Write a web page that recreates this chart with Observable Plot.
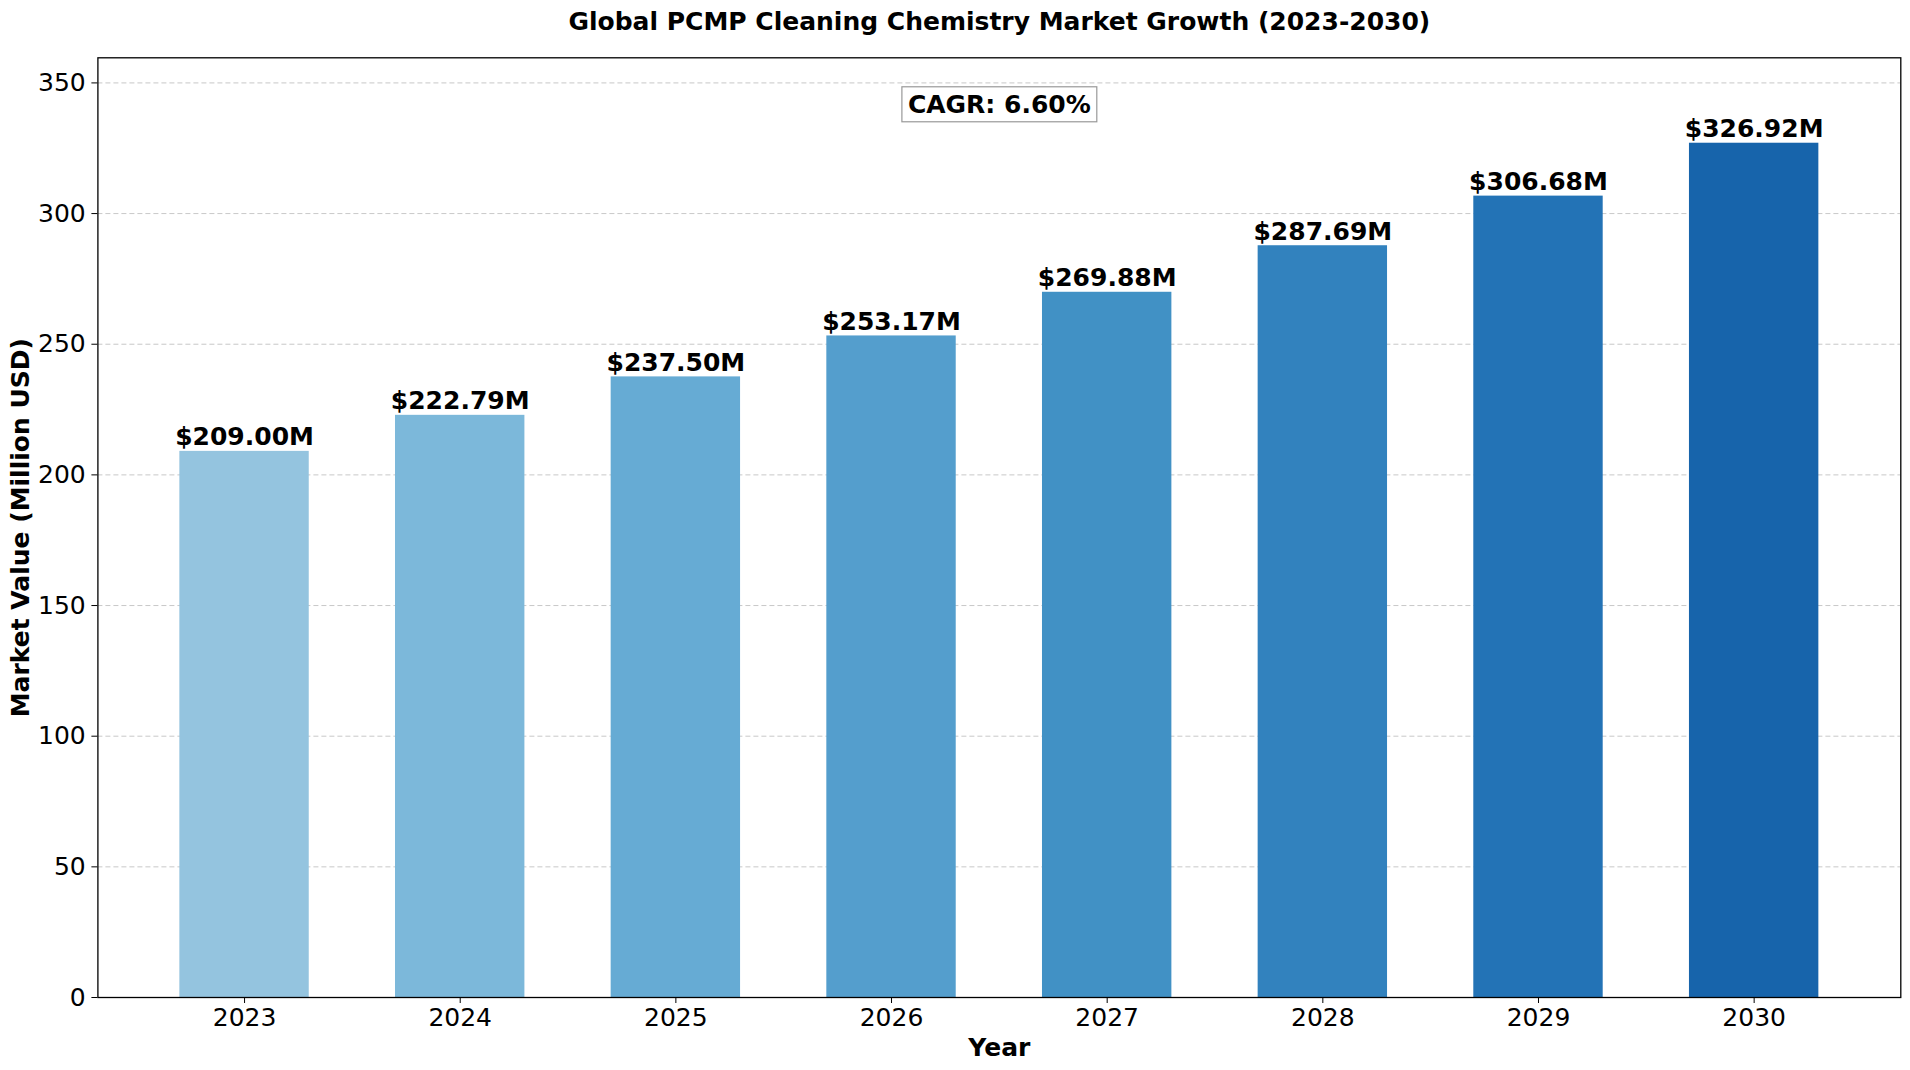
<!DOCTYPE html>
<html>
<head>
<meta charset="utf-8">
<script src="https://cdn.jsdelivr.net/npm/d3@7"></script>
<script src="https://cdn.jsdelivr.net/npm/@observablehq/plot@0.6"></script>
<style>
html, body { margin: 0; padding: 0; background: #fff; overflow: hidden; }
svg g[aria-label$="tick label"] text { font-size: 25px; }
</style>
</head>
<body>
<div id="chart"></div>
<script>
const years = ["2023", "2024", "2025", "2026", "2027", "2028", "2029", "2030"];
const values = [209.00, 222.79, 237.50, 253.17, 269.88, 287.69, 306.68, 326.92];
const yTicks = [0, 50, 100, 150, 200, 250, 300, 350];
const titleText = "Global PCMP Cleaning Chemistry Market Growth (2023-2030)";
const xLabel = "Year";
const yLabel = "Market Value (Million USD)";
const cagrText = "CAGR: 6.60%";

const barColors = ["#94c4df", "#7cb8da", "#66abd4", "#549ecd", "#4191c5", "#3282be", "#2373b6", "#1764ab"];

const data = years.map((year, i) => ({ year, value: values[i], label: `$${values[i].toFixed(2)}M` }));
const yMax = d3.max(values) * 1.1;

const W = 1910, H = 1070;
const mL = 97.4, mR = 9.7, mT = 57.3, mB = 73;
const frameH = H - mT - mB;
const FS = 25;

const chart = Plot.plot({
  width: W,
  height: H,
  marginLeft: mL,
  marginRight: mR,
  marginTop: mT,
  marginBottom: mB,
  style: { fontFamily: "DejaVu Sans", fontSize: FS + "px", color: "black", background: "white", overflow: "visible" },
  x: { type: "band", domain: years, paddingInner: 0.4, paddingOuter: 0.38, align: 0.5, round: false, tickSize: 6, tickPadding: 4.3, fontSize: FS, label: null },
  y: { domain: [0, yMax], ticks: yTicks, tickSize: 6, tickPadding: 6.2, fontSize: FS, label: null },
  color: { type: "ordinal", domain: years, range: barColors },
  marks: [
    Plot.ruleY(yTicks, { stroke: "#b0b0b0", strokeOpacity: 0.7, strokeDasharray: "5,3", strokeWidth: 1 }),
    Plot.barY(data, { x: "year", y: "value", fill: "year" }),
    Plot.text(data, { x: "year", y: "value", text: "label", dy: -6, lineAnchor: "bottom", fontWeight: "bold", fontSize: FS, fill: "black" }),
    Plot.frame({ stroke: "black", strokeWidth: 1.3 }),
    Plot.text([titleText], { text: d => d, frameAnchor: "top", dy: 29 - mT, lineAnchor: "bottom", fontWeight: "bold", fontSize: FS, fill: "black" }),
    Plot.text([cagrText], { text: d => d, frameAnchor: "top", dy: 0.05 * frameH, lineAnchor: "middle", fontWeight: "bold", fontSize: FS, fill: "black" }),
    Plot.text([xLabel], { text: d => d, frameAnchor: "bottom", dy: 1055 - (H - mB), lineAnchor: "bottom", fontWeight: "bold", fontSize: FS, fill: "black" }),
    Plot.text([yLabel], { text: d => d, frameAnchor: "left", dx: 28.3 - mL, rotate: -90, lineAnchor: "bottom", textAnchor: "middle", fontWeight: "bold", fontSize: FS, fill: "black" })
  ]
});

document.getElementById("chart").appendChild(chart);

// Box behind CAGR annotation, sized from the rendered text
const svgRect = chart.getBoundingClientRect();
const cagrNode = Array.from(chart.querySelectorAll("text")).find(t => t.textContent === cagrText);
if (cagrNode) {
  const b = cagrNode.getBoundingClientRect();
  const ns = "http://www.w3.org/2000/svg";
  const rect = document.createElementNS(ns, "rect");
  rect.setAttribute("x", b.left - svgRect.left - 6);
  rect.setAttribute("y", b.top - svgRect.top - 3);
  rect.setAttribute("width", b.width + 12);
  rect.setAttribute("height", b.height + 6);
  rect.setAttribute("fill", "white");
  rect.setAttribute("fill-opacity", "0.8");
  rect.setAttribute("stroke", "#999999");
  rect.setAttribute("stroke-width", "1.2");
  const g = cagrNode.closest("g");
  g.parentNode.insertBefore(rect, g);
}
</script>
</body>
</html>
